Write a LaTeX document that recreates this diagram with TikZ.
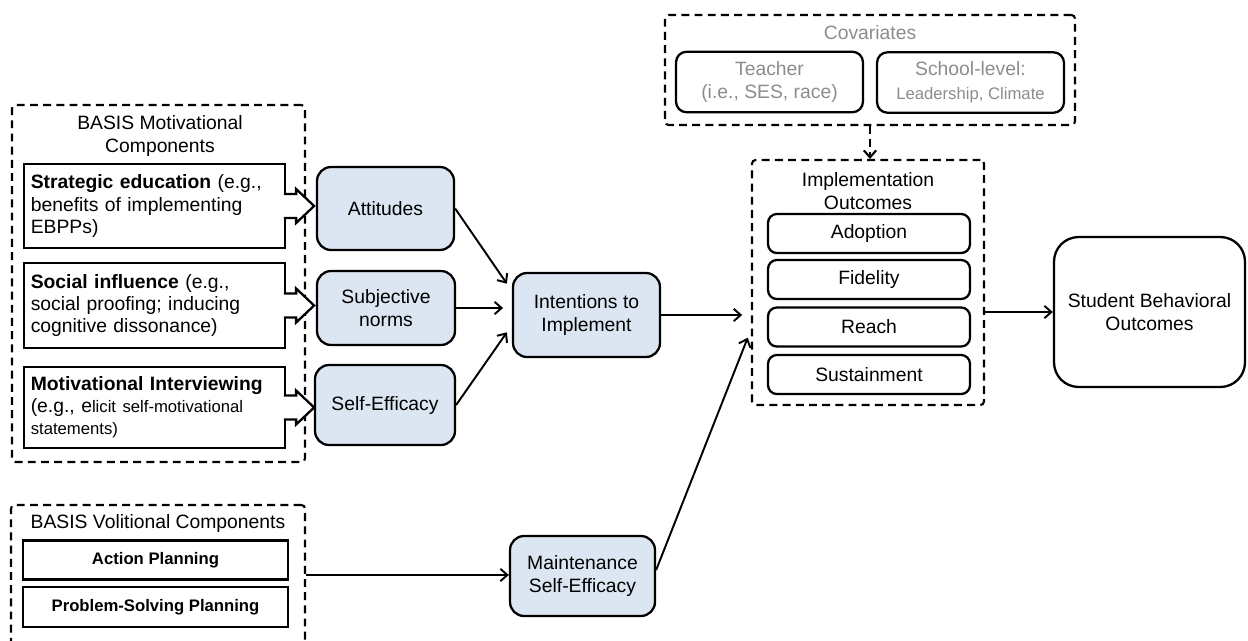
\documentclass[tikz,border=0pt]{standalone}
\usepackage{fontspec}
\setmainfont{Liberation Sans}
\usepackage{xcolor}
\usetikzlibrary{arrows.meta, calc}
\definecolor{boxblue}{HTML}{DCE6F2}
\definecolor{covgray}{HTML}{8C8C8C}

\begin{document}
\begin{tikzpicture}[x=0.02cm, y=-0.02cm, >={Straight Barb[length=4pt,width=7pt]}, line width=1.1pt,
    grp/.style={draw, rectangle, rounded corners=2pt, line width=1.2pt, dash pattern=on 4.5pt off 3pt, inner sep=0pt},
    comp/.style={draw, rectangle, line width=1.3pt, fill=white, minimum width=5.22cm, text width=4.95cm, align=left, font=\fontsize{11}{12.8}\selectfont},
    volbox/.style={draw, rectangle, line width=1.3pt, minimum width=5.3cm, minimum height=0.78cm, font=\fontsize{9.5}{11}\selectfont\bfseries},
    bluebox/.style={draw, rectangle, rounded corners=8pt, line width=1.3pt, fill=boxblue, align=center, font=\fontsize{11}{13.5}\selectfont},
    outbox/.style={draw, rectangle, rounded corners=5pt, line width=1.3pt, minimum width=4.04cm, minimum height=0.78cm, font=\fontsize{11}{13.5}\selectfont},
    covbox/.style={draw=black, rectangle, rounded corners=6pt, line width=1.3pt, minimum width=3.74cm, minimum height=1.21cm, align=center, text=covgray, font=\fontsize{11}{13.5}\selectfont},
    title/.style={align=center, font=\fontsize{11}{13.5}\selectfont}]
    \useasboundingbox (0,0) rectangle (1248,640);

    \node[grp, minimum width=5.86cm, minimum height=7.14cm] (motiv) at (158.5,283.5) {};
    \node[title] (motivtitle) at (160,136) {BASIS Motivational\\Components};
    \node[comp, minimum height=1.68cm] (strat) at (154.5,206) {\textbf{Strategic education} (e.g.,\\benefits of implementing\\EBPPs)};
    \node[comp, minimum height=1.7cm] (social) at (154.5,305.5) {\textbf{Social influence} (e.g.,\\social proofing; inducing\\cognitive dissonance)};
    \node[comp, minimum height=1.62cm] (mi) at (154.5,407.5) {\textbf{Motivational Interviewing}\\(e.g., e{\fontsize{9.5}{12.4}\selectfont licit self-motivational\\statements)}};

    \node[grp, minimum width=5.88cm, minimum height=2.8cm] (vol) at (158,575) {};
    \node[title] (voltitle) at (158,523) {BASIS Volitional Components};
    \node[volbox] (action) at (155.5,560) {Action Planning};
    \node[volbox, minimum height=0.8cm] (problem) at (155.5,607) {Problem-Solving Planning};

    \foreach \b in {strat, social, mi}
        \filldraw[fill=white, line width=1.3pt] ($(\b.east)+(-2.3,-12)$) -- ++(12.3,0) -- ++(0,-5) -- ++(18,17) -- ++(-18,17) -- ++(0,-5) -- ++(-12.3,0);

    \node[bluebox, minimum width=2.74cm, minimum height=1.66cm] (att) at (385.5,208.5) {Attitudes};
    \node[bluebox, minimum width=2.76cm, minimum height=1.48cm] (subj) at (386,308) {Subjective\\norms};
    \node[bluebox, minimum width=2.8cm, minimum height=1.6cm] (selfeff) at (385,405) {Self-Efficacy};
    \node[bluebox, minimum width=2.94cm, minimum height=1.68cm] (intent) at (586.5,315) {Intentions to\\Implement};
    \node[bluebox, minimum width=2.9cm, minimum height=1.6cm] (maint) at (582.5,576) {Maintenance\\Self-Efficacy};

    \node[grp, minimum width=8.2cm, minimum height=2.2cm] (cov) at (870,70) {};
    \node[title, text=covgray] (covtitle) at (870,33) {Covariates};
    \node[covbox] (teacher) at (769.5,82) {Teacher\\(i.e., SES, race)};
    \node[covbox] (school) at (970.5,82.5) {School-level:\\{\fontsize{9.5}{11}\selectfont Leadership, Climate}};

    \node[grp, minimum width=4.64cm, minimum height=4.9cm] (impl) at (868,282.5) {};
    \node[title] (impltitle) at (868,191) {Implementation\\Outcomes};
    \node[outbox] (adopt) at (869,233.5) {Adoption};
    \node[outbox] (fidel) at (869,279.5) {Fidelity};
    \node[outbox] (reach) at (869,327) {Reach};
    \node[outbox] (sustain) at (869,374.5) {Sustainment};

    \node[draw, rectangle, rounded corners=14pt, line width=1.3pt, minimum width=3.82cm, minimum height=3cm, align=center, font=\fontsize{11}{13}\selectfont] (student) at (1149.5,312) {Student Behavioral\\Outcomes};

    \draw[->, shorten >=3pt] (att.east) -- ($(intent.west)+(-2,-27)$);
    \draw[->, shorten >=5pt] (subj.east) -- (subj.east -| intent.west);
    \draw[->, shorten >=3pt] (selfeff.east) -- ($(intent.west)+(-2,13)$);
    \draw[->, shorten >=5pt] (intent.east) -- (intent.east -| impl.west);
    \draw[->, shorten >=5pt] ($(maint.east)+(0,-6)$) -- ($(impl.west)+(0,47)$);
    \draw[->] (student.west -| impl.east) -- (student.west);
    \draw[->, line width=1.2pt, dash pattern=on 4.5pt off 3pt] (cov.south) -- (cov.south |- impl.north);
    \draw[->] (vol.east) -- (vol.east -| maint.west);
\end{tikzpicture}
\end{document}
